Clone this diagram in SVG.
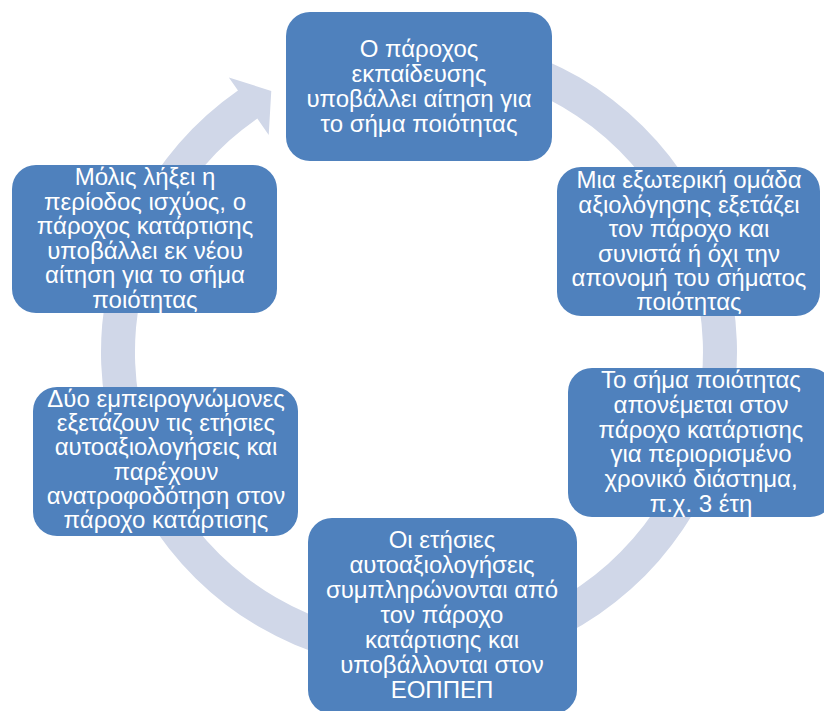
<svg xmlns="http://www.w3.org/2000/svg" width="824" height="711" viewBox="0 0 824 711">
<style>
.box{fill:#4F81BD;}
.lbl{font-family:"Liberation Sans",Arial,sans-serif;font-size:24px;fill:#FFFFFF;text-anchor:middle;}
.ring{fill:#D0D7E8;}
</style>
<rect width="824" height="711" fill="#FFFFFF"/>
<g id="connectors">
<path class="ring" d="M 310.24 53.18 A 318 318 0 1 1 237.97 90.56 L 228.86 77.41 L 271.27 90.89 L 268.71 134.96 L 257.32 118.51 A 284 284 0 1 0 321.87 85.13 Z"/>
</g>
<g id="node1">
<rect class="box" x="286" y="12" width="266" height="149" rx="24"/>
<text class="lbl"><tspan x="419" y="57">Ο πάροχος</tspan><tspan x="419" y="82">εκπαίδευσης</tspan><tspan x="419" y="107">υποβάλλει αίτηση για</tspan><tspan x="419" y="132">το σήμα ποιότητας</tspan></text>
</g>
<g id="node2">
<rect class="box" x="557" y="167" width="263" height="149" rx="24"/>
<text class="lbl"><tspan x="689" y="188">Μια εξωτερική ομάδα</tspan><tspan x="689" y="212.5">αξιολόγησης εξετάζει</tspan><tspan x="689" y="237">τον πάροχο και</tspan><tspan x="689" y="261.5">συνιστά ή όχι την</tspan><tspan x="689" y="286">απονομή του σήματος</tspan><tspan x="689" y="310">ποιότητας</tspan></text>
</g>
<g id="node3">
<rect class="box" x="568" y="368" width="266" height="149" rx="24"/>
<text class="lbl"><tspan x="701" y="388">Το σήμα ποιότητας</tspan><tspan x="701" y="412.8">απονέμεται στον</tspan><tspan x="701" y="437.6">πάροχο κατάρτισης</tspan><tspan x="701" y="462.4">για περιορισμένο</tspan><tspan x="701" y="487.2">χρονικό διάστημα,</tspan><tspan x="701" y="512">π.χ. 3 έτη</tspan></text>
</g>
<g id="node4">
<rect class="box" x="308" y="518" width="269" height="196" rx="24"/>
<text class="lbl"><tspan x="442" y="548">Οι ετήσιες</tspan><tspan x="442" y="573">αυτοαξιολογήσεις</tspan><tspan x="442" y="598">συμπληρώνονται από</tspan><tspan x="442" y="623">τον πάροχο</tspan><tspan x="442" y="648">κατάρτισης και</tspan><tspan x="442" y="673">υποβάλλονται στον</tspan><tspan x="442" y="698">ΕΟΠΠΕΠ</tspan></text>
</g>
<g id="node5">
<rect class="box" x="33" y="387" width="265" height="149" rx="24"/>
<text class="lbl"><tspan x="166" y="407">Δύο εμπειρογνώμονες</tspan><tspan x="166" y="431.2">εξετάζουν τις ετήσιες</tspan><tspan x="166" y="455.4">αυτοαξιολογήσεις και</tspan><tspan x="166" y="479.6">παρέχουν</tspan><tspan x="166" y="503.8">ανατροφοδότηση στον</tspan><tspan x="166" y="528">πάροχο κατάρτισης</tspan></text>
</g>
<g id="node6">
<rect class="box" x="12" y="165" width="265" height="148" rx="24"/>
<text class="lbl"><tspan x="145" y="185">Μόλις λήξει η</tspan><tspan x="145" y="209.5">περίοδος ισχύος, ο</tspan><tspan x="145" y="234">πάροχος κατάρτισης</tspan><tspan x="145" y="258.5">υποβάλλει εκ νέου</tspan><tspan x="145" y="283">αίτηση για το σήμα</tspan><tspan x="145" y="307.5">ποιότητας</tspan></text>
</g>
</svg>
